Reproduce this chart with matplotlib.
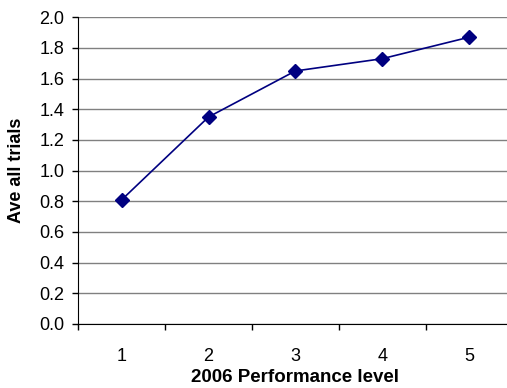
import matplotlib
matplotlib.use('Agg')
import matplotlib.pyplot as plt
import numpy as np

levels = [1, 2, 3, 4, 5]
ave_all_trials = [0.81, 1.35, 1.65, 1.73, 1.87]
y_ticks = [0.0, 0.2, 0.4, 0.6, 0.8, 1.0, 1.2, 1.4, 1.6, 1.8, 2.0]

plt.rcParams['font.family'] = ['Liberation Sans', 'DejaVu Sans']

fig = plt.figure(figsize=(5.07, 3.88), dpi=100)
# plot area: x 78..512 px (clipped on the right), y 17..324 px
ax = fig.add_axes([78.3 / 507, 1 - 324 / 388, (512.4 - 78.3) / 507, (324 - 17.3) / 388])

ax.plot(levels, ave_all_trials, color='#000080', lw=1.2, marker='D', ms=7,
        mfc='#000080', mec='#000080', zorder=3, clip_on=False)

ax.set_xlim(0.5, 5.5)
ax.set_ylim(0, 2.0)
ax.set_yticks(y_ticks)
ax.set_yticklabels(['%.1f' % v for v in y_ticks])
ax.set_xticks(levels)
ax.set_xticklabels([str(v) for v in levels])
ax.set_xticks(np.arange(0.5, 6.0, 1.0), minor=True)

ax.grid(axis='y', color='#808080', lw=1.0)
ax.set_axisbelow(True)
for s in ['top', 'right']:
    ax.spines[s].set_visible(False)

ax.tick_params(axis='y', length=4, width=1, labelsize=13, pad=6)
ax.tick_params(axis='x', which='major', length=0, labelsize=13, pad=17)
ax.tick_params(axis='x', which='minor', length=4, width=1)

ax.set_xlabel('2006 Performance level', fontsize=13.5, fontweight='bold')
ax.set_ylabel('Ave all trials', fontsize=13, fontweight='bold')
ax.xaxis.set_label_coords(0.5, -0.147)
ax.yaxis.set_label_coords(-0.123, 0.5)

fig.savefig('out.png', dpi=100)
